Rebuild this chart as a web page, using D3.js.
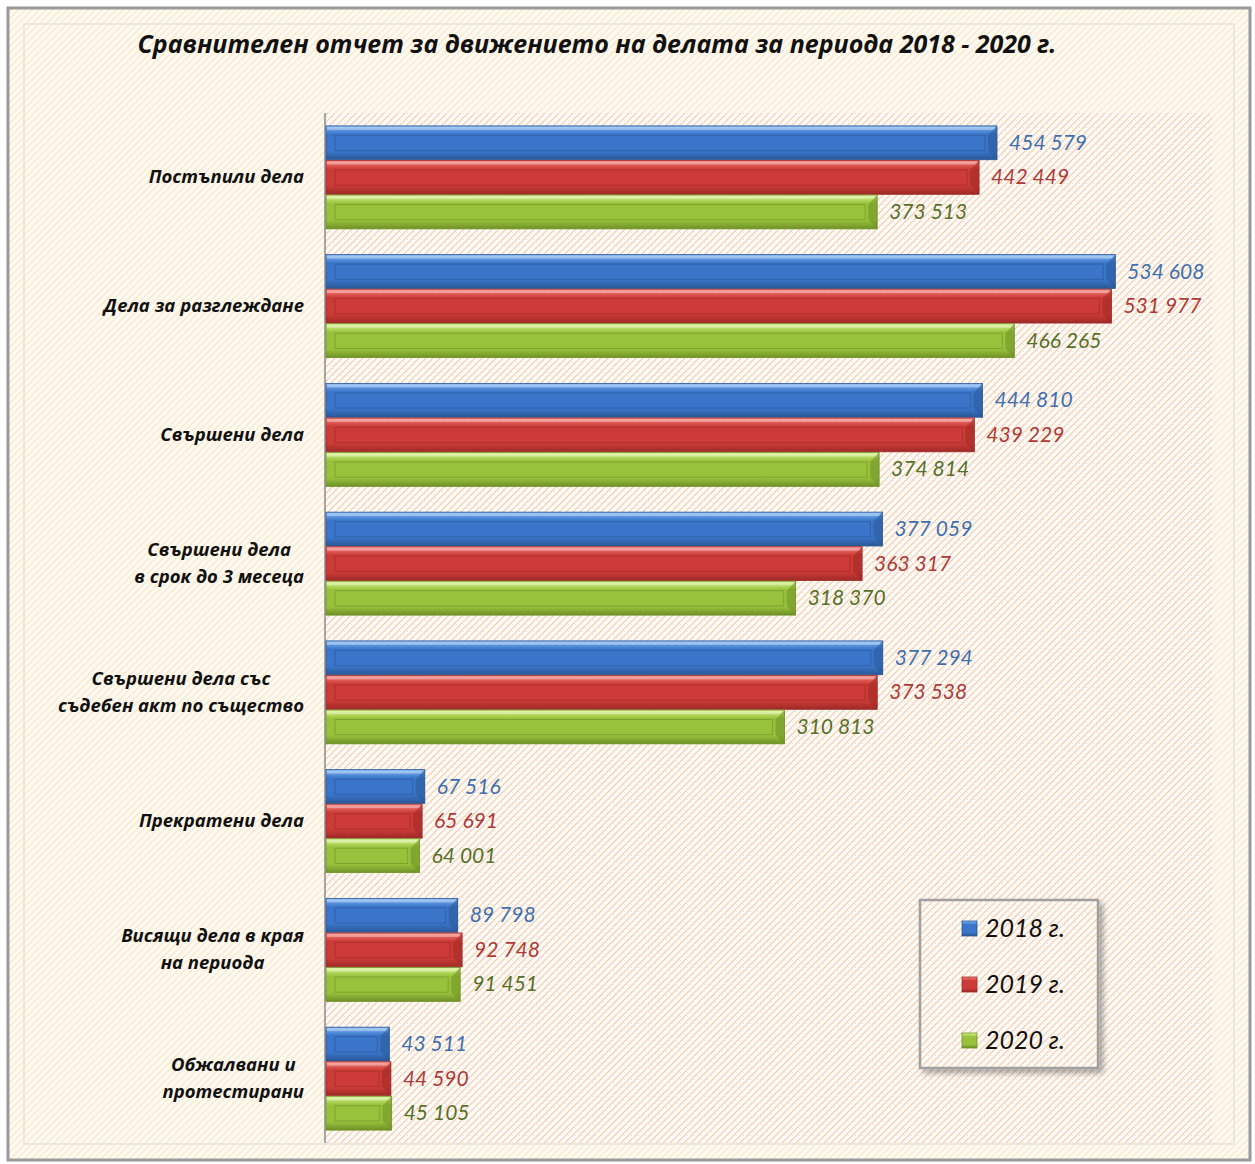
<!DOCTYPE html>
<html>
<head>
<meta charset="utf-8">
<script src="https://cdn.jsdelivr.net/npm/d3@7"></script>
<style>
  body { margin: 0; background: #ffffff; }
  text { font-family: Lato, "Open Sans", sans-serif; }
  text.bold { font-family: "Open Sans", Lato, sans-serif; }
</style>
</head>
<body>
<div id="app"></div>
<script>
const width = 1255,
  height = 1164;

const title = "Сравнителен отчет за движението на делата за периода 2018 - 2020 г.";

const categories = [
  ["Постъпили дела"],
  ["Дела за разглеждане"],
  ["Свършени дела"],
  ["Свършени дела", "в срок до 3 месеца"],
  ["Свършени дела със", "съдебен акт по същество"],
  ["Прекратени дела"],
  ["Висящи дела в края", "на периода"],
  ["Обжалвани и", "протестирани"]
];

const years = ["2018 г.", "2019 г.", "2020 г."];

const values2018 = [454579, 534608, 444810, 377059, 377294, 67516, 89798, 43511];
const values2019 = [442449, 531977, 439229, 363317, 373538, 65691, 92748, 44590];
const values2020 = [373513, 466265, 374814, 318370, 310813, 64001, 91451, 45105];

const series = [values2018, values2019, values2020];

// colours per year: [top light, mid, bottom dark, label]
const palette = [
  { light: "#7cb4f4", mid: "#3a75c9", dark: "#2a5796", label: "#3f6fae" },
  { light: "#f77e79", mid: "#cc3b37", dark: "#9e2a27", label: "#ad3a37" },
  { light: "#d9f58e", mid: "#98c23c", dark: "#6f9127", label: "#56702a" }
];

const fmt = d3.formatLocale({ decimal: ",", thousands: " ", grouping: [3], currency: ["", ""] }).format(",d");

const svg = d3.select("#app")
  .append("svg")
  .attr("width", width)
  .attr("height", height);

const defs = svg.append("defs");

// hatch patterns for the backgrounds
const hatch = defs.append("pattern")
  .attr("id", "hatch")
  .attr("patternUnits", "userSpaceOnUse")
  .attr("width", 7)
  .attr("height", 7);
hatch.append("rect").attr("width", 7).attr("height", 7).attr("fill", "#ffffff");
hatch.append("path").attr("d", "M-1,8 L8,-1 M-1,1 L1,-1 M6,8 L8,6")
  .attr("stroke", "#f6cfae").attr("stroke-width", 1.3);
hatch.append("path").attr("d", "M0,0 L2,2 M3.5,3.5 L5.5,5.5")
  .attr("stroke", "#fbe2cc").attr("stroke-width", 0.9);

const hatchOuter = defs.append("pattern")
  .attr("id", "hatchOuter")
  .attr("patternUnits", "userSpaceOnUse")
  .attr("width", 7)
  .attr("height", 7);
hatchOuter.append("rect").attr("width", 7).attr("height", 7).attr("fill", "#fefaf1");
hatchOuter.append("path").attr("d", "M-1,8 L8,-1 M-1,1 L1,-1 M6,8 L8,6")
  .attr("stroke", "#f8e8cc").attr("stroke-width", 1.3);

const shadow = defs.append("filter").attr("id", "shadow")
  .attr("x", "-20%").attr("y", "-20%").attr("width", "150%").attr("height", "150%");
shadow.append("feDropShadow").attr("dx", 4).attr("dy", 4).attr("stdDeviation", 3)
  .attr("flood-color", "#000").attr("flood-opacity", 0.35);

palette.forEach((p, i) => {
  const g = defs.append("linearGradient").attr("id", "bar" + i)
    .attr("x1", 0).attr("y1", 0).attr("x2", 0).attr("y2", 1);
  g.append("stop").attr("offset", "0%").attr("stop-color", p.light);
  g.append("stop").attr("offset", "25%").attr("stop-color", p.mid);
  g.append("stop").attr("offset", "75%").attr("stop-color", p.mid);
  g.append("stop").attr("offset", "100%").attr("stop-color", p.dark);
});

// outer frame
svg.append("rect")
  .attr("x", 8).attr("y", 8)
  .attr("width", 1242).attr("height", 1152)
  .attr("fill", "url(#hatchOuter)")
  .attr("stroke", "#9a9a9a").attr("stroke-width", 3);
svg.append("rect")
  .attr("x", 24).attr("y", 24)
  .attr("width", 1210).attr("height", 1120)
  .attr("fill", "none")
  .attr("stroke", "#e6e2da").attr("stroke-width", 1.5);

svg.append("text")
  .attr("class", "bold")
  .attr("x", 597).attr("y", 53)
  .attr("text-anchor", "middle")
  .attr("font-size", 25)
  .attr("font-weight", "bold")
  .attr("font-style", "italic")
  .attr("fill", "#111")
  .text(title);

const margin = { left: 325, right: 43, top: 113, bottom: 21 };

const x = d3.scaleLinear()
  .domain([0, 600000])
  .range([margin.left, width - margin.right]);

const y = d3.scaleBand()
  .domain(d3.range(categories.length))
  .range([margin.top, height - margin.bottom])
  .paddingInner(0.2)
  .paddingOuter(0.1);

const ySub = d3.scaleBand()
  .domain(d3.range(series.length))
  .range([0, y.bandwidth()])
  .paddingInner(0.02);

// plot area
svg.append("rect")
  .attr("x", x.range()[0]).attr("y", margin.top)
  .attr("width", x.range()[1] - x.range()[0])
  .attr("height", height - margin.bottom - margin.top)
  .attr("fill", "url(#hatch)");

// category axis
const yAxis = svg.append("g")
  .attr("transform", `translate(${x(0)},0)`)
  .call(d3.axisLeft(y).tickSize(0).tickFormat(""));
yAxis.select(".domain").attr("stroke", "#8a8a8a").attr("stroke-width", 1.5)
  .attr("d", `M0,${margin.top}V${height - margin.bottom}`);

// category labels: lines centred as a block, block right edge at labelRight
const labelRight = 304;
const labels = svg.append("g");
categories.forEach((lines, i) => {
  const cy = y(i) + y.bandwidth() / 2;
  const t = labels.append("text")
    .attr("class", "bold")
    .attr("y", cy - (lines.length - 1) * 13.5 + 6)
    .attr("text-anchor", "middle")
    .attr("font-size", 18.5)
    .attr("font-weight", "bold")
    .attr("font-style", "italic")
    .attr("fill", "#111");
  const spans = lines.map((l, k) =>
    t.append("tspan").attr("dy", k === 0 ? 0 : 27).text(l));
  const w = d3.max(spans, s => s.node().getComputedTextLength());
  spans.forEach(s => s.attr("x", labelRight - w / 2));
});

// bars
series.forEach((vals, s) => {
  const p = palette[s];
  const g = svg.append("g").attr("class", "series-" + s);
  const h = ySub.bandwidth();
  const bars = g.selectAll("g.bar")
    .data(vals)
    .join("g")
    .attr("class", "bar")
    .attr("transform", (d, i) => `translate(0,${y(i) + ySub(s)})`);

  bars.append("rect")
    .attr("x", x(0) + 1)
    .attr("y", 0)
    .attr("width", d => x(d) - x(0) - 1)
    .attr("height", h)
    .attr("fill", `url(#bar${s})`)
    .attr("stroke", p.dark)
    .attr("stroke-width", 0.8);

  // bevel inner panel
  bars.append("rect")
    .attr("x", x(0) + 10)
    .attr("y", h * 0.28)
    .attr("width", d => Math.max(0, x(d) - x(0) - 22))
    .attr("height", h * 0.45)
    .attr("fill", p.mid)
    .attr("stroke", p.dark)
    .attr("stroke-opacity", 0.6)
    .attr("stroke-width", 1);

  // top highlight
  bars.append("rect")
    .attr("x", x(0) + 2)
    .attr("y", 1)
    .attr("width", d => x(d) - x(0) - 4)
    .attr("height", 3)
    .attr("fill", "#ffffff")
    .attr("opacity", 0.35);

  // right bevel edge
  bars.append("path")
    .attr("d", d => `M${x(d)},0 L${x(d) - 9},${h * 0.28} L${x(d) - 9},${h * 0.73} L${x(d)},${h} Z`)
    .attr("fill", p.dark)
    .attr("opacity", 0.55);

  bars.append("text")
    .attr("x", d => x(d) + 12)
    .attr("y", h / 2 + 7)
    .attr("font-size", 21)
    .attr("font-style", "italic")
    .attr("fill", p.label)
    .text(d => fmt(d));
});

// legend
const legend = svg.append("g").attr("transform", "translate(920,900)");
legend.append("rect")
  .attr("width", 178).attr("height", 168)
  .attr("fill", "url(#hatch)")
  .attr("stroke", "#a0a0a0").attr("stroke-width", 2.5)
  .attr("filter", "url(#shadow)");

const ly = d3.scalePoint().domain(years).range([28, 140]);
years.forEach((yr, i) => {
  const row = legend.append("g").attr("transform", `translate(0,${ly(yr)})`);
  row.append("rect")
    .attr("x", 42).attr("y", -7)
    .attr("width", 15).attr("height", 15)
    .attr("fill", `url(#bar${i})`)
    .attr("stroke", palette[i].dark).attr("stroke-width", 0.8);
  row.append("text")
    .attr("x", 65).attr("y", 9)
    .attr("font-size", 25)
    .attr("font-style", "italic")
    .attr("fill", "#111")
    .text(yr);
});
</script>
</body>
</html>
